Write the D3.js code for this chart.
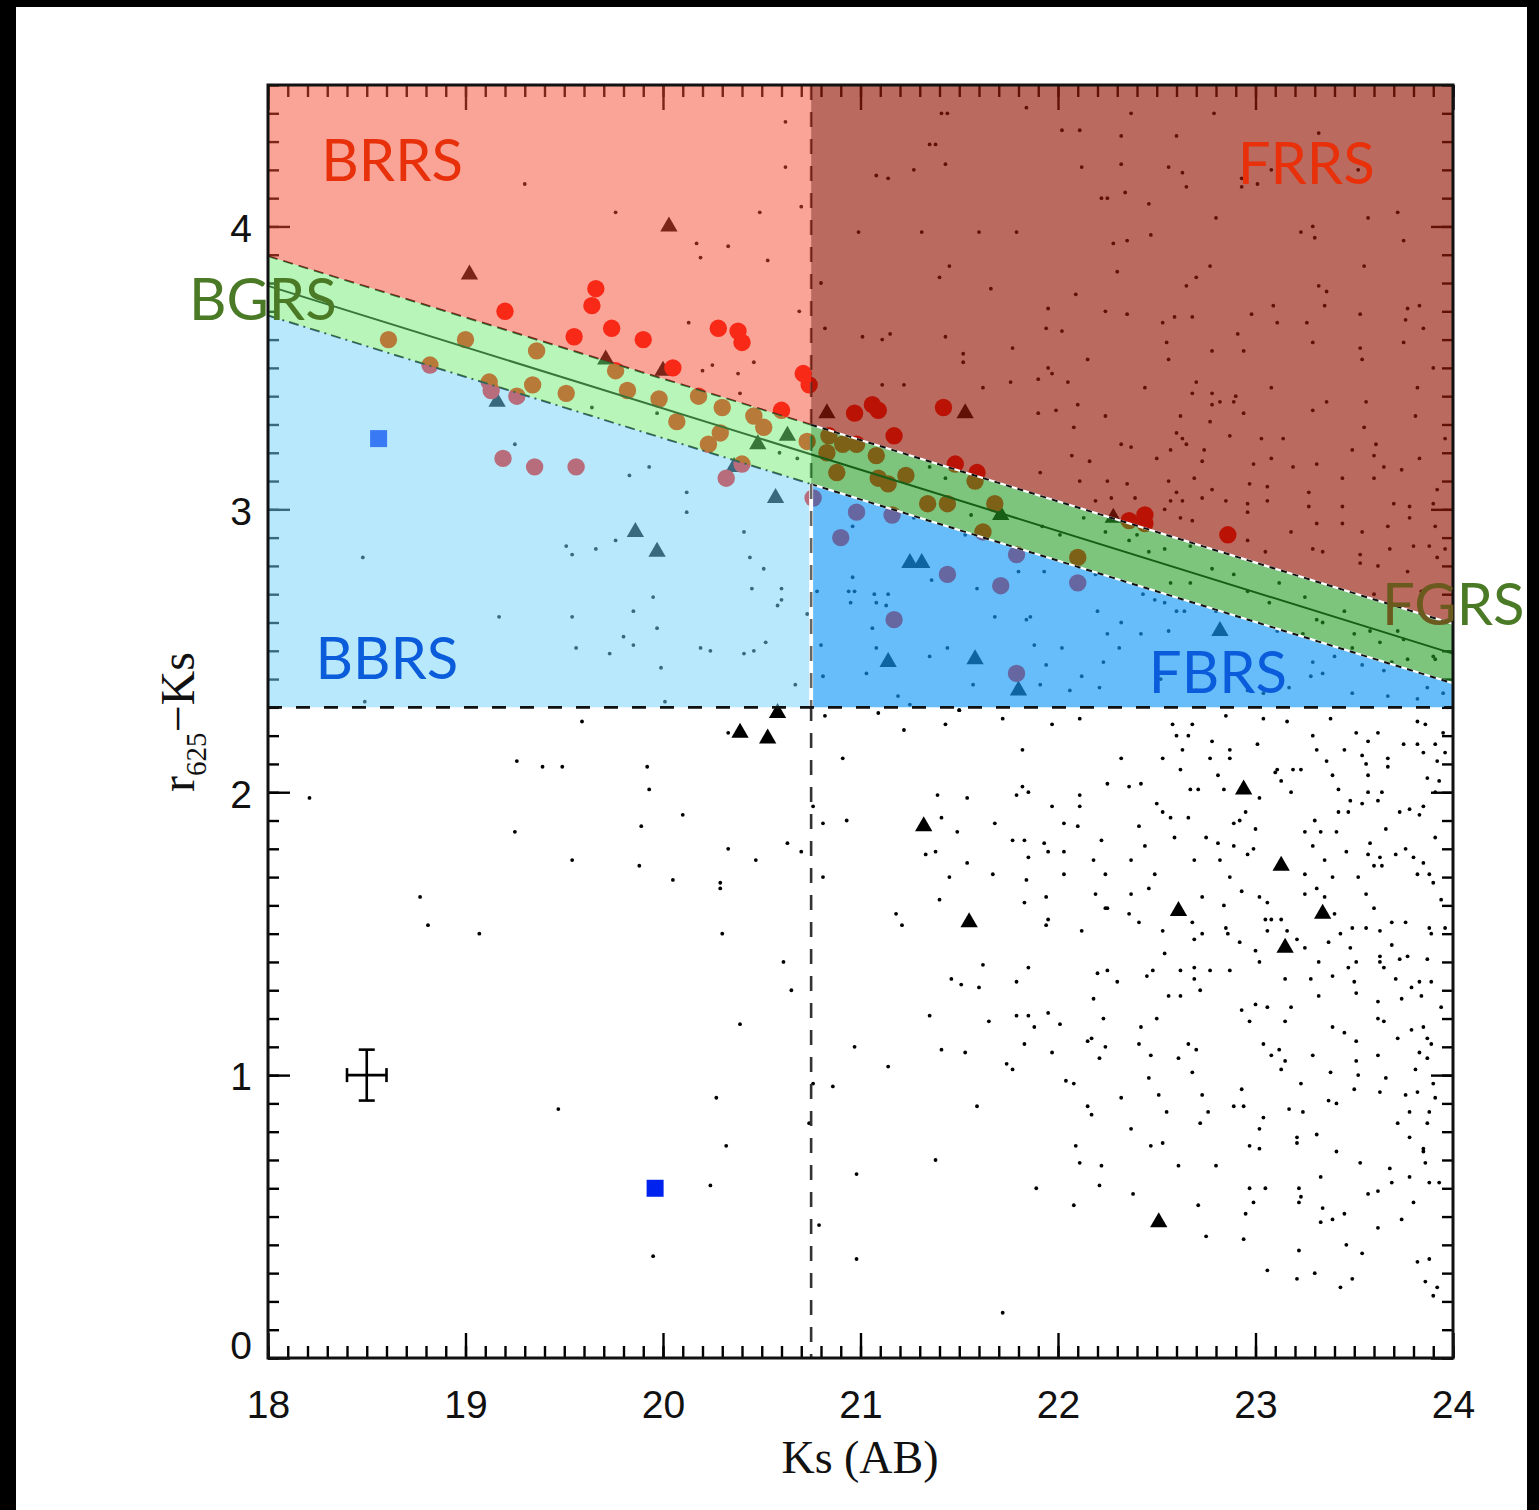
<!DOCTYPE html>
<html><head><meta charset="utf-8">
<script src="https://cdn.jsdelivr.net/npm/d3@7"></script>
<style>html,body{margin:0;padding:0;background:#000;} svg{display:block}</style>
</head><body>
<svg id="chart" width="1539" height="1510"></svg>
<script>
// ---------------- DATA ----------------
const ksDomain = [18, 24];
const colorDomain = [0, 4.5];
const xTickValues = [18, 19, 20, 21, 22, 23, 24];
const yTickValues = [0, 1, 2, 3, 4];
const xAxisTitle = "Ks (AB)";
const yAxisTitle = ["r", "625", "\u2212Ks"];
const ksSplit = 20.75;
const colorCut = 2.3;
const bandCenter = [[18, 3.79], [24, 2.49]];
const bandHalfWidth = 0.105;
const regionNames = ["BRRS", "FRRS", "BGRS", "FGRS", "BBRS", "FBRS"];
const errorBar = [18.5, 1.0, 0.1, 0.09]; // ks, color, ±ks, ±color

const redCircles = [
 [19.20,3.70],[19.66,3.78],[19.64,3.72],[19.55,3.61],[19.74,3.64],[19.90,3.60],[20.28,3.64],[20.38,3.63],[20.40,3.59],
 [20.05,3.50],[20.71,3.48],[20.74,3.44],[20.60,3.35],[20.76,3.04],
 [20.97,3.34],[21.06,3.37],[21.09,3.35],[21.42,3.36],[21.17,3.26],[21.48,3.16],[21.59,3.13],[22.36,2.96],[22.44,2.98],[22.44,2.95],[22.86,2.91],
 [18.61,3.60],[19.00,3.60],[19.36,3.56],[19.34,3.44],[19.51,3.41],[19.12,3.45],[19.76,3.49],[19.82,3.42],[19.98,3.39],[20.18,3.40],
 [20.30,3.36],[20.07,3.31],[20.29,3.27],[20.46,3.33],[20.51,3.29],[20.23,3.23],[20.73,3.24],
 [18.82,3.51],[19.26,3.40],[19.13,3.42],[19.19,3.18],[19.35,3.15],[19.56,3.15],[20.32,3.11],[20.40,3.16],
 [20.84,3.26],[20.91,3.23],[20.98,3.23],[20.83,3.20],[20.88,3.13],[21.08,3.19],[21.09,3.11],[21.14,3.09],[21.23,3.12],
 [21.34,3.02],[21.44,3.02],[21.58,3.10],[21.68,3.02],[21.62,2.92],[22.10,2.83],
 [20.98,2.99],[21.16,2.98],[20.90,2.90],[21.44,2.77],[21.71,2.73],[21.79,2.84],[21.17,2.61],[21.79,2.42],[22.10,2.74]
];

const triangles = [
 [19.02,3.83],[20.03,4.00],[20.00,3.49],[19.71,3.53],[19.16,3.38],[20.36,3.15],[20.57,3.04],[19.86,2.92],[19.97,2.85],
 [20.48,3.23],[20.63,3.26],[20.83,3.34],[21.53,3.34],[21.71,2.98],[22.28,2.97],[21.25,2.81],[21.31,2.81],[21.14,2.46],
 [21.58,2.47],[21.80,2.36],[22.82,2.57],[20.58,2.28],[20.39,2.21],[20.53,2.19],[21.32,1.88],[21.55,1.54],[22.61,1.58],
 [22.94,2.01],[23.13,1.74],[23.34,1.57],[23.15,1.45],[22.51,0.48]
];

const squares = [[18.56,3.25],[19.96,0.60]];

const dots = [
 [22.37,4.40],[22.79,4.40],[23.32,4.33],[22.02,4.34],[22.11,4.34],[22.32,4.32],[22.60,4.32],[22.12,4.21],[22.32,4.22],[22.56,4.21],
 [22.63,4.19],[22.93,4.17],[22.93,4.14],[23.01,4.15],[23.08,4.20],[23.52,4.20],[22.65,4.14],[22.22,4.10],[22.25,4.10],[22.34,4.12],
 [22.46,4.08],[23.72,4.05],[23.57,4.03],[22.80,4.03],[23.29,4.00],[23.23,3.98],[23.30,3.96],[23.75,3.95],[22.47,3.97],[22.28,3.94],
 [22.35,3.95],[22.77,3.86],[22.70,3.82],[23.55,3.86],[22.30,3.84],[22.65,3.79],[22.09,3.76],[23.32,3.79],[23.36,3.77],[23.35,3.72],
 [21.95,3.71],[22.24,3.70],[22.35,3.69],[23.09,3.72],[23.53,3.69],[23.77,3.71],[23.83,3.72],[21.94,3.64],[22.02,3.63],[22.53,3.66],
 [22.59,3.68],[22.68,3.68],[22.98,3.69],[23.11,3.66],[23.26,3.66],[23.76,3.67],[23.85,3.64],[22.91,3.62],[22.55,3.59],[22.78,3.56],
 [22.94,3.56],[23.29,3.59],[23.53,3.57],[23.54,3.53],[23.75,3.59],[22.15,3.53],[22.56,3.53],[21.95,3.50],[21.97,3.48],[22.05,3.45],
 [21.90,3.46],[23.90,3.50],[22.70,3.45],[22.44,3.43],[22.68,3.41],[22.78,3.41],[22.90,3.40],[23.08,3.43],[23.82,3.43],[22.78,3.37],
 [22.82,3.38],[22.89,3.38],[23.36,3.38],[23.56,3.38],[21.90,3.34],[21.99,3.35],[22.10,3.37],[22.24,3.33],[22.94,3.34],[23.29,3.35],
 [23.81,3.33],[22.62,3.33],[22.08,3.29],[22.60,3.27],[22.63,3.25],[22.77,3.31],[22.87,3.26],[23.03,3.25],[23.14,3.25],[23.55,3.29],
 [23.96,3.25],[22.32,3.23],[22.37,3.22],[23.49,3.21],[23.61,3.23],[22.57,3.21],[22.74,3.21],
 [21.41,4.40],[21.44,4.40],[21.35,4.29],[21.38,4.29],[21.08,4.18],[21.14,4.17],[21.27,4.20],[21.43,4.22],[20.99,3.98],[21.31,3.98],
 [21.60,3.98],[21.79,3.98],[21.45,3.86],[21.40,3.82],[20.80,3.80],[21.66,3.78],[21.84,4.42],[20.82,3.64],[21.01,3.61],[21.11,3.60],
 [21.15,3.62],[21.43,3.61],[21.77,3.57],[21.52,3.55],[21.52,3.52],[21.11,3.44],[21.22,3.44],[21.62,3.43],[21.76,3.45],
 [22.65,3.23],[22.07,3.19],[22.16,3.17],[22.50,3.18],[22.73,3.17],[22.99,3.16],[23.08,3.18],[23.19,3.15],[23.31,3.16],[23.65,3.15],
 [23.74,3.14],[23.83,3.18],[23.60,3.19],[21.91,3.13],[22.11,3.10],[22.25,3.10],[22.35,3.09],[22.56,3.10],[22.69,3.11],[22.60,3.06],
 [22.78,3.07],[22.97,3.09],[23.06,3.08],[23.27,3.06],[23.44,3.11],[23.60,3.11],[23.92,3.07],[22.19,3.03],[22.27,3.04],[22.39,3.04],
 [22.57,3.03],[22.63,3.03],[22.73,3.04],[22.85,3.03],[22.96,3.02],[23.06,3.03],[23.27,3.01],[23.44,3.01],[23.70,3.02],[23.78,3.01],
 [23.90,3.02],[22.54,3.00],[22.62,2.97],[22.68,2.96],[22.96,2.99],[23.18,2.92],[23.31,2.95],[23.44,2.95],[23.54,2.92],[23.67,2.94],
 [23.78,2.97],[23.91,2.94],[22.96,2.89],[23.05,2.85],[23.29,2.86],[23.34,2.85],[23.53,2.84],[23.68,2.86],[23.80,2.87],[23.88,2.87],
 [23.53,2.81],[23.62,2.80],[23.77,2.78],[23.92,2.83],[23.96,2.86],[23.60,2.70],[23.84,2.71],[23.92,2.73],
 [20.62,4.37],[20.62,4.21],[20.70,4.07],[19.76,4.05],[20.49,4.05],[20.17,3.94],[20.33,3.93],[20.19,3.89],[20.53,3.88],[20.69,3.70],
 [20.13,3.66],[20.25,3.51],[20.20,3.49],[20.46,3.52],[20.38,3.48],[20.39,3.41],[19.30,4.15],
 [19.83,3.12],[19.93,3.15],[20.12,3.06],[20.12,2.99],[20.41,2.92],[19.76,2.89],[19.66,2.86],[20.44,2.83],[20.51,2.79],[20.45,2.72],
 [20.60,2.72],[20.60,2.68],[19.95,2.69],[19.85,2.64],[20.58,2.66],[19.97,2.58],[19.80,2.55],[19.85,2.52],[20.73,2.63],[19.73,2.49],
 [20.19,2.51],[20.24,2.50],[20.41,2.49],[20.46,2.50],[20.52,2.53],[20.67,2.38],[19.99,2.44],[20.01,2.32],[19.25,3.23],[18.48,2.83],
 [19.51,2.87],[19.54,2.84],[19.17,2.62],[19.54,2.62],[19.56,2.51],[18.49,2.32],
 [19.64,3.36],[19.97,3.34],[20.68,3.18],[20.59,3.20],[21.35,3.15],[21.43,3.11],[21.56,2.98],
 [22.13,2.97],[22.24,2.92],[22.40,2.91],[22.54,2.86],[22.67,2.87],[22.78,2.79],[22.89,2.77],[22.57,2.74],[22.67,2.74],[22.96,2.71],
 [23.12,2.74],[23.07,2.67],[23.31,2.61],[23.34,2.60],[23.45,2.64],[23.58,2.57],[23.63,2.53],[23.72,2.57],[23.75,2.54],[23.90,2.48],
 [23.50,2.56],[23.25,2.69],[22.36,2.89],[22.46,2.85],[22.01,2.91],[21.92,2.94],
 [20.96,2.94],[21.27,2.97],[21.53,2.91],[21.80,2.78],[20.96,2.76],[21.36,2.75],[21.59,2.72],[20.78,2.71],[20.94,2.71],[20.97,2.71],
 [21.07,2.70],[21.14,2.70],[20.95,2.67],[21.08,2.67],[21.13,2.66],[21.68,2.62],[21.84,2.61],[21.06,2.58],[20.80,2.52],[21.08,2.51],
 [21.44,2.51],[21.35,2.48],[20.81,2.41],[21.03,2.42],[21.19,2.34],[21.25,2.31],[21.50,2.29],[21.57,2.38],[21.93,2.78],[22.19,2.77],
 [22.43,2.70],[22.49,2.68],[22.54,2.67],[22.60,2.64],[22.64,2.64],[22.80,2.64],[22.20,2.64],[21.86,2.62],[22.32,2.60],[22.42,2.56],
 [22.56,2.57],[23.11,2.57],[23.24,2.56],[22.25,2.56],[21.88,2.52],[22.02,2.51],[22.31,2.51],[23.49,2.51],[23.91,2.47],[21.94,2.45],
 [22.23,2.46],[23.29,2.46],[23.40,2.48],[23.54,2.45],[23.69,2.46],[23.77,2.47],[23.65,2.43],[22.12,2.41],[22.52,2.40],[23.28,2.41],
 [23.34,2.42],[23.17,2.37],[23.87,2.37],[23.49,2.35],[23.67,2.34],[23.82,2.33],[21.91,2.38],[22.06,2.36],[22.21,2.37],[22.70,2.36],
 [23.95,2.35],[22.96,2.36],[23.04,2.35],
 [19.59,2.25],[20.33,2.21],[20.82,2.27],[21.09,2.28],[21.22,2.22],[21.43,2.24],[21.50,2.29],[21.72,2.26],[21.82,2.15],[20.91,2.12],
 [21.97,2.24],[22.11,2.26],[22.58,2.24],[22.68,2.24],[22.85,2.27],[22.60,2.20],[22.66,2.20],[22.78,2.18],[22.87,2.15],[23.01,2.17],
 [23.04,2.26],[23.16,2.25],[23.29,2.20],[23.38,2.26],[23.51,2.21],[23.62,2.21],[23.57,2.18],[23.82,2.25],[23.86,2.24],[23.95,2.21],
 [23.91,2.17],[22.32,2.12],[22.53,2.12],[22.63,2.15],[22.77,2.12],[22.87,2.12],[23.31,2.15],[23.36,2.11],[23.45,2.15],[23.54,2.13],
 [23.67,2.12],[23.75,2.17],[23.82,2.17],[23.85,2.14],[23.92,2.11],[23.96,2.14],[23.11,2.08],[23.19,2.08],[23.56,2.10],
 [22.62,2.08],[22.81,2.06],[23.10,2.07],[23.23,2.08],[23.39,2.06],[23.57,2.06],[23.67,2.09],[23.87,2.05],[23.93,2.04],
 [21.39,1.99],[21.54,1.98],[21.82,2.02],[21.79,1.99],[21.85,2.00],[22.11,1.99],[22.11,1.95],[22.25,2.03],[22.36,2.02],[22.42,2.03],
 [22.67,2.01],[22.71,2.01],[22.84,2.01],[23.02,1.98],[23.13,2.04],[23.18,2.00],[23.42,2.01],[23.57,2.00],[23.64,2.00],[23.48,1.97],
 [23.85,1.95],[23.91,2.00],[20.93,1.90],[21.41,1.91],[21.49,1.86],[21.68,1.89],[21.97,1.95],[22.03,1.89],[22.10,1.88],[22.50,1.96],
 [22.53,1.93],[22.57,1.91],[22.66,1.91],[22.89,1.89],[22.92,1.90],[23.00,1.87],[22.95,1.93],[23.30,1.90],[23.42,1.93],[23.47,1.93],
 [23.54,1.96],[23.62,1.97],[23.73,1.93],[23.78,1.94],[23.83,1.92],[23.66,1.87],[21.77,1.83],[21.83,1.83],[21.93,1.82],[22.22,1.83],
 [22.41,1.88],[22.44,1.81],[22.59,1.84],[22.75,1.84],[22.81,1.82],[22.89,1.81],[22.99,1.80],[23.25,1.86],[23.33,1.86],[23.41,1.86],
 [23.58,1.82],[23.91,1.84],[21.33,1.78],[21.38,1.79],[21.85,1.77],[21.95,1.79],[22.03,1.79],[22.18,1.76],[22.37,1.76],[22.69,1.76],
 [22.82,1.76],[22.96,1.78],[23.29,1.81],[23.35,1.76],[23.46,1.79],[23.57,1.78],[23.63,1.77],[23.71,1.78],[23.76,1.80],[23.80,1.77],
 [23.85,1.75],[23.60,1.74],[23.64,1.74],[21.54,1.75],[21.45,1.70],[21.67,1.71],[21.84,1.69],[22.03,1.71],[22.24,1.71],[22.49,1.71],
 [22.87,1.70],[23.25,1.71],[23.39,1.70],[23.52,1.70],[23.82,1.71],[23.88,1.71],[23.90,1.68],[21.40,1.62],[21.83,1.61],[21.94,1.63],
 [22.19,1.64],[22.25,1.59],[22.37,1.64],[22.46,1.66],[22.73,1.63],[22.84,1.60],[22.93,1.65],[23.02,1.63],[23.06,1.61],[23.25,1.64],
 [23.31,1.66],[23.35,1.63],[23.56,1.64],[23.60,1.59],[23.94,1.62],[21.18,1.57],[21.21,1.53],[21.95,1.55],[21.94,1.53],[22.12,1.51],
 [22.24,1.59],[22.36,1.57],[22.41,1.54],[22.53,1.51],[22.68,1.54],[22.85,1.52],[22.86,1.50],[22.92,1.47],[23.05,1.55],[23.08,1.55],
 [23.13,1.55],[23.06,1.51],[23.16,1.51],[23.40,1.57],[23.43,1.50],[23.49,1.52],[23.56,1.52],[23.63,1.51],[23.69,1.54],[23.76,1.54],
 [23.88,1.52],[23.96,1.52],[22.69,1.48],[22.73,1.50],[23.21,1.48],[23.25,1.45],[23.37,1.47],[23.48,1.45],[23.69,1.46],[23.89,1.50],
 [23.63,1.42],[22.54,1.43],[23.00,1.44],[23.02,1.40],[23.32,1.40],[23.47,1.38],[23.51,1.40],[23.63,1.40],[23.65,1.38],[23.73,1.41],
 [23.77,1.42],[23.87,1.41],[21.62,1.39],[21.85,1.38],[21.46,1.34],[21.51,1.32],[21.60,1.31],[21.79,1.33],[22.20,1.36],[22.25,1.37],
 [22.30,1.33],[22.45,1.35],[22.48,1.37],[22.62,1.37],[22.69,1.38],[22.69,1.34],[22.77,1.37],[22.87,1.37],[23.15,1.34],[23.28,1.34],
 [23.39,1.35],[23.50,1.33],[23.71,1.34],[23.79,1.31],[23.83,1.33],[23.89,1.33],[22.18,1.27],[22.56,1.28],[22.62,1.28],[22.72,1.30],
 [23.00,1.25],[23.06,1.24],[23.18,1.24],[23.32,1.28],[23.51,1.29],[23.62,1.26],[23.74,1.27],[23.84,1.28],[23.94,1.24],[21.35,1.21],
 [21.65,1.19],[21.79,1.21],[21.85,1.21],[21.88,1.17],[21.95,1.22],[22.01,1.18],[22.23,1.20],[22.42,1.17],[22.50,1.20],[22.93,1.23],
 [22.97,1.19],[23.15,1.19],[23.39,1.17],[23.45,1.15],[23.51,1.12],[23.62,1.20],[23.65,1.19],[23.72,1.13],[23.79,1.16],[23.85,1.17],
 [23.87,1.13],[20.97,1.10],[21.41,1.09],[21.53,1.08],[21.83,1.11],[21.97,1.08],[22.15,1.12],[22.17,1.13],[22.21,1.06],[22.24,1.10],
 [22.41,1.11],[22.47,1.07],[22.61,1.06],[22.66,1.11],[22.70,1.09],[23.04,1.11],[23.08,1.07],[23.12,1.09],[23.15,1.05],[23.29,1.07],
 [23.51,1.05],[23.62,1.07],[23.83,1.08],[23.87,1.06],[23.89,1.11],[21.14,1.03],[21.74,1.04],[21.77,1.02],[22.04,0.98],[22.08,0.97],
 [22.68,1.01],[23.13,1.02],[23.38,1.01],[23.52,1.00],[23.66,0.99],[23.81,1.02],[23.90,0.97],[20.86,0.96],[22.46,0.99],[22.93,0.95],
 [23.23,0.97],[23.37,0.91],[23.50,0.95],[23.63,0.94],[23.76,0.93],[23.82,0.94],[23.91,0.92],[21.59,0.89],[22.15,0.89],[22.32,0.92],
 [22.51,0.93],[22.55,0.87],[22.73,0.93],[22.89,0.89],[22.94,0.89],[23.04,0.85],[23.24,0.87],[23.17,0.88],[23.41,0.90],[23.72,0.83],
 [23.78,0.87],[23.87,0.83],[23.88,0.87],[22.17,0.86],[22.37,0.81],[22.72,0.83],[22.76,0.87],[23.02,0.81],[23.21,0.78],[23.21,0.76],
 [23.31,0.79],[23.41,0.73],[23.78,0.78],[23.85,0.74],[22.09,0.75],[22.47,0.75],[22.53,0.76],[22.97,0.75],[23.02,0.74],
 [20.98,0.65],[21.38,0.70],[22.11,0.69],[22.22,0.68],[22.21,0.61],[21.89,0.60],[22.08,0.54],[22.38,0.58],[22.61,0.68],[22.80,0.68],
 [22.71,0.54],[22.75,0.43],[22.94,0.42],[22.95,0.51],[22.97,0.60],[22.99,0.55],[23.05,0.60],[23.06,0.31],[23.22,0.60],[23.23,0.57],
 [23.22,0.55],[23.22,0.38],[23.21,0.28],[23.30,0.30],[23.33,0.64],[23.33,0.48],[23.34,0.53],[23.39,0.49],[23.45,0.51],[23.46,0.40],
 [23.43,0.25],[23.49,0.28],[23.53,0.69],[23.54,0.37],[23.57,0.58],[23.62,0.59],[23.62,0.46],[23.68,0.67],[23.69,0.62],[23.74,0.49],
 [23.80,0.55],[23.78,0.64],[23.82,0.34],[23.88,0.35],[23.86,0.27],[23.92,0.25],[23.90,0.22],[23.86,0.69],[23.88,0.62],[23.93,0.62],
 [23.85,0.73],[21.72,0.16],[20.98,0.35],
 [20.24,0.61],[19.95,0.36],[20.79,0.47],
 [18.21,1.98],[19.26,2.11],[19.39,2.09],[19.49,2.09],[19.92,2.09],[19.93,2.01],[20.10,1.92],[19.25,1.86],[19.89,1.88],[19.54,1.76],
 [19.88,1.74],[20.05,1.69],[20.29,1.68],[20.29,1.66],[20.33,1.80],[20.47,1.76],[20.63,1.82],[20.70,1.79],[20.81,1.89],[20.81,1.70],
 [18.77,1.63],[18.81,1.53],[19.07,1.50],[20.30,1.50],[20.61,1.40],[20.65,1.30],[20.39,1.18],[20.27,0.92],[19.47,0.88],[20.32,0.75],
 [20.74,0.83],[20.76,0.97],[20.76,1.95]
];

// ---------------- LAYOUT ----------------
const W = 1539, H = 1510;
const plot = {left: 268, right: 1453, top: 85, bottom: 1358};
const svg = d3.select("#chart");
const x = d3.scaleLinear().domain(ksDomain).range([plot.left, plot.right]);
const y = d3.scaleLinear().domain(colorDomain).range([plot.bottom, plot.top]);

const bandSlope = (bandCenter[1][1] - bandCenter[0][1]) / (bandCenter[1][0] - bandCenter[0][0]);
const center = ks => bandCenter[0][1] + bandSlope * (ks - bandCenter[0][0]);
const bandTop = ks => center(ks) + bandHalfWidth;
const bandBot = ks => center(ks) - bandHalfWidth;

svg.append("rect").attr("x", 0).attr("y", 0).attr("width", W).attr("height", H).attr("fill", "#000");
svg.append("rect").attr("x", 16).attr("y", 7).attr("width", 1511).attr("height", H - 7).attr("fill", "#fff");

// ---------------- TICKS (under the colour overlays) ----------------
const minorX = d3.range(180, 241).map(v => v / 10);
const minorY = d3.range(0, 46).map(v => v / 10);
function ticks(axis, tr, values, size) {
  const g = svg.append("g").attr("transform", tr)
    .call(axis.tickValues(values).tickSizeInner(size).tickSizeOuter(0).tickFormat(""));
  g.select(".domain").remove();
  g.selectAll("line").attr("stroke", "#000").attr("stroke-width", 2.4);
  return g;
}
ticks(d3.axisBottom(x), `translate(0,${plot.bottom})`, minorX, -12);
ticks(d3.axisBottom(x), `translate(0,${plot.bottom})`, xTickValues, -25);
ticks(d3.axisTop(x), `translate(0,${plot.top})`, minorX, -12);
ticks(d3.axisTop(x), `translate(0,${plot.top})`, xTickValues, -25);
ticks(d3.axisLeft(y), `translate(${plot.left},0)`, minorY, -11);
ticks(d3.axisLeft(y), `translate(${plot.left},0)`, yTickValues, -22);
ticks(d3.axisRight(y), `translate(${plot.right},0)`, minorY, -11);
ticks(d3.axisRight(y), `translate(${plot.right},0)`, yTickValues, -22);

// ---------------- MARKS ----------------
svg.append("g").selectAll("circle").data(dots).join("circle")
  .attr("cx", d => x(d[0])).attr("cy", d => y(d[1])).attr("r", 1.9).attr("fill", "#000");

svg.append("g").selectAll("path").data(triangles).join("path")
  .attr("d", d3.symbol(d3.symbolTriangle, 130)())
  .attr("transform", d => `translate(${x(d[0])},${y(d[1])})`).attr("fill", "#000");

svg.append("g").selectAll("circle").data(redCircles).join("circle")
  .attr("cx", d => x(d[0])).attr("cy", d => y(d[1])).attr("r", 8.7).attr("fill", "#ff0800");

svg.append("g").selectAll("rect").data(squares).join("rect")
  .attr("x", d => x(d[0]) - 8.5).attr("y", d => y(d[1]) - 8.5).attr("width", 17).attr("height", 17).attr("fill", "#0022ee");

{
  const [ek, ec, dk, dc] = errorBar;
  const g = svg.append("g").attr("stroke", "#000").attr("stroke-width", 2.6);
  g.append("line").attr("x1", x(ek - dk)).attr("x2", x(ek + dk)).attr("y1", y(ec)).attr("y2", y(ec));
  g.append("line").attr("x1", x(ek)).attr("x2", x(ek)).attr("y1", y(ec - dc)).attr("y2", y(ec + dc));
  g.append("line").attr("x1", x(ek - dk)).attr("x2", x(ek - dk)).attr("y1", y(ec) - 7).attr("y2", y(ec) + 7);
  g.append("line").attr("x1", x(ek + dk)).attr("x2", x(ek + dk)).attr("y1", y(ec) - 7).attr("y2", y(ec) + 7);
  g.append("line").attr("x1", x(ek) - 8).attr("x2", x(ek) + 8).attr("y1", y(ec + dc)).attr("y2", y(ec + dc));
  g.append("line").attr("x1", x(ek) - 8).attr("x2", x(ek) + 8).attr("y1", y(ec - dc)).attr("y2", y(ec - dc));
}

const line = d3.line().x(d => x(d[0])).y(d => y(d[1]));
svg.append("path").attr("d", line([[18, center(18)], [24, center(24)]]))
  .attr("stroke", "#000").attr("stroke-width", 2).attr("fill", "none");
svg.append("path").attr("d", line([[18, bandBot(18)], [ksSplit, bandBot(ksSplit)]]))
  .attr("stroke", "#000").attr("stroke-width", 2).attr("fill", "none").attr("stroke-dasharray", "10,5,2,5");
svg.append("path").attr("d", line([[18, bandTop(18)], [ksSplit, bandTop(ksSplit)]]))
  .attr("stroke", "#000").attr("stroke-width", 2).attr("fill", "none").attr("stroke-dasharray", "10,6");
svg.append("path").attr("d", line([[ksSplit, colorDomain[1]], [ksSplit, 0]]))
  .attr("stroke", "#333").attr("stroke-width", 2.6).attr("fill", "none").attr("stroke-dasharray", "15,12");

// ---------------- COLOUR OVERLAYS ----------------
const regions = [
  {pts: [[18, 4.5], [ksSplit, 4.5], [ksSplit, bandTop(ksSplit)], [18, bandTop(18)]], fill: "rgb(243,73,47)", op: 0.5},
  {pts: [[ksSplit, 4.5], [24, 4.5], [24, bandTop(24)], [ksSplit, bandTop(ksSplit)]], fill: "rgb(149,26,9)", op: 0.65},
  {pts: [[18, bandTop(18)], [ksSplit, bandTop(ksSplit)], [ksSplit, bandBot(ksSplit)], [18, bandBot(18)]], fill: "rgb(113,235,113)", op: 0.5},
  {pts: [[ksSplit, bandTop(ksSplit)], [24, bandTop(24)], [24, bandBot(24)], [ksSplit, bandBot(ksSplit)]], fill: "rgb(38,157,38)", op: 0.6},
  {pts: [[18, bandBot(18)], [ksSplit, bandBot(ksSplit)], [ksSplit, colorCut], [18, colorCut]], fill: "rgb(113,209,249)", op: 0.5},
  {pts: [[ksSplit, bandBot(ksSplit)], [24, bandBot(24)], [24, colorCut], [ksSplit, colorCut]], fill: "rgb(20,153,247)", op: 0.65}
];
svg.append("g").selectAll("path").data(regions).join("path")
  .attr("d", d => line(d.pts) + "Z").attr("fill", d => d.fill).attr("fill-opacity", d => d.op);

function seam(pts, dash) {
  svg.append("path").attr("d", line(pts)).attr("stroke", "#fff").attr("stroke-width", 2.2).attr("fill", "none");
  svg.append("path").attr("d", line(pts)).attr("stroke", "#111").attr("stroke-width", 2).attr("fill", "none").attr("stroke-dasharray", dash);
}
seam([[ksSplit, bandTop(ksSplit)], [24, bandTop(24)]], "6,6");
seam([[ksSplit, bandBot(ksSplit)], [24, bandBot(24)]], "6,6");
svg.append("path").attr("d", line([[ksSplit, bandBot(ksSplit)], [ksSplit, colorCut]]))
  .attr("stroke", "#fff").attr("stroke-width", 4).attr("fill", "none");
svg.append("path").attr("d", line([[ksSplit, bandBot(ksSplit)], [ksSplit, colorCut]]))
  .attr("stroke", "#666").attr("stroke-width", 2.6).attr("fill", "none").attr("stroke-dasharray", "15,12");

svg.append("path").attr("d", line([[18, colorCut], [24, colorCut]]))
  .attr("stroke", "#111").attr("stroke-width", 2.6).attr("fill", "none").attr("stroke-dasharray", "14,14");

svg.append("rect").attr("x", plot.left).attr("y", plot.top)
  .attr("width", plot.right - plot.left).attr("height", plot.bottom - plot.top)
  .attr("fill", "none").attr("stroke", "#111").attr("stroke-width", 3);

// ---------------- TICK LABELS ----------------
const gx = svg.append("g").attr("transform", `translate(0,${plot.bottom})`)
  .call(d3.axisBottom(x).tickValues(xTickValues).tickSize(0).tickPadding(32).tickFormat(d3.format("d")));
gx.select(".domain").remove();
gx.selectAll("text").attr("font-family", "Liberation Sans, Arial, sans-serif").attr("font-size", 39).attr("fill", "#111");

const gy = svg.append("g").attr("transform", `translate(${plot.left},0)`)
  .call(d3.axisLeft(y).tickValues(yTickValues).tickSize(0).tickPadding(16).tickFormat(d3.format("d")));
gy.select(".domain").remove();
gy.selectAll("text").attr("font-family", "Liberation Sans, Arial, sans-serif").attr("font-size", 39).attr("fill", "#111")
  .attr("dy", d => d === 0 ? "0em" : "0.38em");

svg.append("text").attr("x", 860).attr("y", 1473).attr("text-anchor", "middle")
  .attr("font-family", "Liberation Serif, Times New Roman, serif").attr("font-size", 46).attr("fill", "#111")
  .text(xAxisTitle);
{
  const t = svg.append("text").attr("transform", "translate(194,722) rotate(-90)").attr("text-anchor", "middle")
    .attr("font-family", "Liberation Serif, Times New Roman, serif").attr("font-size", 48).attr("fill", "#111");
  t.append("tspan").text(yAxisTitle[0]);
  t.append("tspan").attr("font-size", 29).attr("dy", 12).text(yAxisTitle[1]);
  t.append("tspan").attr("dy", -12).text(yAxisTitle[2]);
}

// region labels
const labelFont = "Lato, 'Open Sans', sans-serif";
const labelPos = {
  BRRS: [18.27, 4.16, "#e8300a"], FRRS: [22.91, 4.15, "#e8300a"],
  BGRS: [17.6, 3.67, "#4b7a26"], FGRS: [23.64, 2.59, "#4b7a26"],
  BBRS: [18.24, 2.40, "#0a5cdb"], FBRS: [22.46, 2.35, "#0a5cdb"]
};
regionNames.forEach(n => {
  const [k, c, col] = labelPos[n];
  const t = svg.append("text").attr("x", x(k)).attr("y", y(c))
    .attr("font-family", labelFont).attr("font-size", 58).attr("fill", col);
  if (n === "FGRS") {
    t.append("tspan").attr("fill", "#6b5a1e").text(n.slice(0, 2));
    t.append("tspan").text(n.slice(2));
  } else t.text(n);
});
</script>
</body></html>
